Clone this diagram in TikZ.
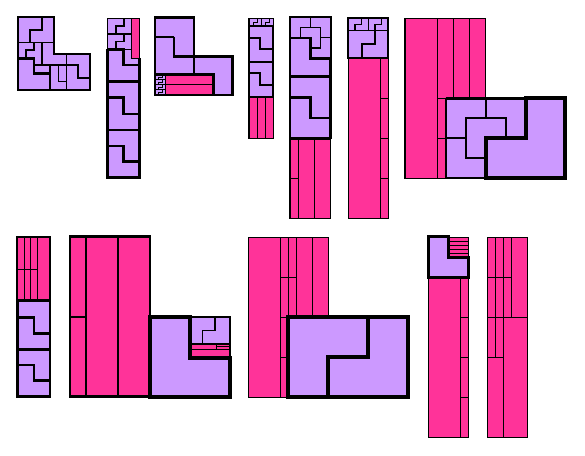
\documentclass[tikz,border=0pt]{standalone}
\usepackage{tikz}
\definecolor{pinkc}{RGB}{255,51,153}
\definecolor{purc}{RGB}{204,153,255}
\tikzset{
  lA/.style={line width=0.8pt},
  lB/.style={line width=1.2pt},
  lC/.style={line width=1.8pt},
  lD/.style={line width=2.6pt},
  lE/.style={line width=3.8pt},
  pk/.style={fill=pinkc,draw=black},
  pu/.style={fill=purc,draw=black},
}
\begin{document}
\begin{tikzpicture}[x=1pt,y=-1pt,line join=miter]
\useasboundingbox (0,0) rectangle (585,455);
\fill[white] (0,0) rectangle (585,455);

% ---------- Figure 1 ----------
\fill[purc] (18,17.3)--(54,17.3)--(54,54)--(90,54)--(90,90)--(18,90)--cycle;
\draw[lB] (42,17.3)--(42,30)--(30,30)--(30,42.3);
\draw[lB] (18,42.3)--(54,42.3);
\draw[lB] (34,42.3)--(34,50)--(26,50)--(26,58.3);
\draw[lB] (42,42.3)--(42,65);
\draw[lB] (34,65)--(66.7,65);
\draw[lB] (66.7,54)--(66.7,90);
\draw[lB] (50,65)--(50,73.3);
\draw[lB] (58.3,65)--(58.3,81.7)--(66.7,81.7);
\draw[lB] (66.7,65)--(78,65)--(78,78)--(90,78);
\draw[lD] (18,58.3)--(34,58.3)--(34,73.3)--(50,73.3)--(50,90);
\draw[lC] (18,17.3)--(54,17.3)--(54,54)--(90,54)--(90,90)--(18,90)--cycle;
\draw[lD] (18,58.3)--(18,90)--(50,90);

% ---------- Figure 2 ----------
\fill[purc] (107.3,18.3) rectangle (139.3,177.3);
\draw[pk,lB] (131.7,18.3) rectangle (139.3,58.3);
\draw[lB] (107.3,18.3) rectangle (131.7,34);
\draw[lB] (124,18.3)--(124,26)--(116,26)--(116,34);
\draw[lB] (107.3,34) rectangle (131.7,49.3);
\draw[lB] (124,34)--(124,41.7)--(116,41.7)--(116,49.3);
\draw[lB] (131.7,49.3)--(131.7,58.3);
\draw[lD] (107.3,49.3)--(123.3,49.3)--(123.3,65)--(139.3,65);
\draw[lD] (107.3,81.7)--(139.3,81.7);
\draw[lD] (107.3,97.3)--(123.3,97.3)--(123.3,114)--(139.3,114);
\draw[lD] (107.3,130)--(139.3,130);
\draw[lD] (107.3,146)--(123.3,146)--(123.3,161.7)--(139.3,161.7);
\draw[lD] (107.3,49.3)--(107.3,177.3)--(139.3,177.3)--(139.3,58.3);

% ---------- Figure 3 ----------
\fill[purc] (155,17.3)--(194,17.3)--(194,56.7)--(232.7,56.7)--(232.7,95)--(155,95)--cycle;
\draw[pk,lB] (165.3,74.3) rectangle (213.3,84.7);
\draw[pk,lB] (165.3,84.7) rectangle (213.3,95);
\foreach \i in {0,1,2,3}{
  \draw[lA] (155,74.3+5.175*\i) rectangle (165.3,79.475+5.175*\i);
  \draw[lA] (162.5,74.3+5.175*\i)--(162.5,76.9+5.175*\i)--(158.5,76.9+5.175*\i)--(158.5,79.475+5.175*\i);
}
\draw[lC] (155,36.7)--(174,36.7);
\draw[lD] (174,36.7)--(174,56.7)--(232.7,56.7);
\draw[lD] (194,17.3)--(194,74.3);
\draw[lD] (155,74.3)--(213.3,74.3)--(213.3,95);
\draw[lD] (155,17.3)--(194,17.3)--(194,56.7)--(232.7,56.7)--(232.7,95)--(155,95)--cycle;

% ---------- Figure 4 ----------
\fill[purc] (249,18.3) rectangle (273.3,97.3);
\draw[lB] (249,18.3) rectangle (261.2,26);
\draw[lB] (261.2,18.3) rectangle (273.3,26);
\draw[lA] (257,18.3)--(257,22.2)--(253,22.2)--(253,26);
\draw[lA] (269.2,18.3)--(269.2,22.2)--(265.2,22.2)--(265.2,26);
\draw[lC] (249,38.3)--(260,38.3)--(260,49.3)--(273.3,49.3);
\draw[lC] (249,61.7)--(273.3,61.7);
\draw[lC] (249,73.3)--(260,73.3)--(260,85)--(273.3,85);
\draw[pk,lB] (249,97.3) rectangle (273.3,138.3);
\draw[lB] (257.3,97.3)--(257.3,138.3);
\draw[lB] (265.7,97.3)--(265.7,138.3);
\draw[lC] (249,26) rectangle (273.3,97.3);
\draw[lD] (249,26)--(249,97.3);

% ---------- Figure 5 ----------
\fill[purc] (290,17.3) rectangle (330.7,138.3);
\draw[lB] (310.35,17.3)--(310.35,27.55);
\draw[lB] (300.2,27.55)--(320.5,27.55);
\draw[lB] (300.2,27.55)--(300.2,37.8);
\draw[lB] (320.5,27.55)--(320.5,48.05);
\draw[lB] (320.5,37.8)--(330.7,37.8);
\draw[lB] (310.35,48.05)--(320.5,48.05);
\draw[lD] (290,37.8)--(310.35,37.8)--(310.35,58.3)--(330.7,58.3);
\draw[lD] (290,76.7)--(330.7,76.7);
\draw[lD] (290,97.2)--(310.35,97.2)--(310.35,117.8)--(330.7,117.8);
\draw[pk,lB] (290,138.3) rectangle (330.7,218.3);
\draw[lB] (298.3,138.3)--(298.3,218.3);
\draw[lB] (314.3,138.3)--(314.3,218.3);
\draw[lB] (290,178.3)--(298.3,178.3);
\draw[lC] (290,17.3) rectangle (330.7,138.3);
\draw[lD] (290,138.3)--(330.7,138.3);
\draw[lD] (330.7,58.3)--(330.7,138.3);

% ---------- Figure 6 ----------
\fill[purc] (348.3,18.3) rectangle (388.3,58.3);
\draw[lB] (348.3,18.3) rectangle (368.3,30.7);
\draw[lB] (368.3,18.3) rectangle (388.3,30.7);
\draw[lB] (361.7,18.3)--(361.7,24.5)--(355,24.5)--(355,30.7);
\draw[lB] (381.7,18.3)--(381.7,24.5)--(375,24.5)--(375,30.7);
\draw[lC] (375,30.7)--(375,44.3)--(361.7,44.3)--(361.7,58.3);
\draw[lC] (348.3,18.3) rectangle (388.3,58.3);
\draw[pk,lB] (348.3,58.3) rectangle (388.3,218.3);
\draw[lB] (380.7,58.3)--(380.7,218.3);
\draw[lB] (380.7,98.3)--(388.3,98.3);
\draw[lB] (380.7,138.3)--(388.3,138.3);
\draw[lB] (380.7,178.3)--(388.3,178.3);
\draw[lC] (348.3,58.3)--(388.3,58.3);

% ---------- Figure 7 ----------
\draw[pk,lB] (405,18.3) rectangle (437.3,178.3);
\draw[pk,lB] (437.3,18.3) rectangle (453.3,98.3);
\draw[pk,lB] (453.3,18.3) rectangle (469.3,98.3);
\draw[pk,lB] (469.3,18.3) rectangle (485.7,98.3);
\draw[pk,lB] (437.3,98.3) rectangle (445.7,138.3);
\draw[pk,lB] (437.3,138.3) rectangle (445.7,178.3);
\fill[purc] (445.7,98.3) rectangle (565,178.3);
\draw[lC] (485.7,98.3)--(485.7,118.3);
\draw[lC] (465.7,118.3)--(505.7,118.3)--(505.7,138.3)--(485.7,138.3)--(485.7,158.3)--(465.7,158.3)--cycle;
\draw[lC] (445.7,138.3)--(465.7,138.3);
\draw[lC] (445.7,98.3)--(445.7,178.3)--(485.7,178.3);
\draw[lD] (445.7,98.3)--(525.7,98.3);
\draw[lE] (485.7,178.3)--(485.7,138.3)--(525.7,138.3)--(525.7,98.3)--(565,98.3)--(565,178.3)--cycle;

% ---------- Figure 8 ----------
\draw[pk,lB] (17.3,237.3) rectangle (50,300.7);
\draw[lB] (24.3,237.3)--(24.3,300.7);
\draw[lB] (30.7,237.3)--(30.7,300.7);
\draw[lB] (37.3,237.3)--(37.3,300.7);
\draw[lB] (17.3,269.3)--(37.3,269.3);
\fill[purc] (17.3,300.7) rectangle (50,396.7);
\draw[lD] (17.3,317.3)--(34,317.3)--(34,333.3)--(50,333.3);
\draw[lD] (17.3,349.3)--(50,349.3);
\draw[lD] (17.3,365)--(34,365)--(34,380.7)--(50,380.7);
\draw[lD] (17.3,300.7) rectangle (50,396.7);
\draw[lC] (17.3,237.3) rectangle (50,300.7);

% ---------- Figure 9 ----------
\draw[pk,lD] (70,236.7) rectangle (150,396.7);
\draw[lC] (86,236.7)--(86,396.7);
\draw[lC] (118.3,236.7)--(118.3,396.7);
\draw[lC] (70,317.3)--(86,317.3);
\fill[purc] (150,316.7)--(190,316.7)--(190,358.3)--(230,358.3)--(230,396.7)--(150,396.7)--cycle;
\fill[purc] (190,316.7) rectangle (230,344);
\draw[lB] (215,316.7)--(215,330.3)--(202.7,330.3)--(202.7,344);
\draw[pk,lB] (190,344) rectangle (216.7,349.3);
\draw[pk,lB] (216.7,344) rectangle (230,346.6);
\draw[pk,lB] (216.7,346.6) rectangle (230,349.3);
\draw[pk,lB] (190,349.3) rectangle (230,358.3);
\draw[lC] (190,316.7) rectangle (230,358.3);
\draw[lE] (150,316.7)--(190,316.7)--(190,358.3)--(230,358.3)--(230,396.7)--(150,396.7)--cycle;

% ---------- Figure 10 ----------
\draw[pk,lB] (248.3,237.3) rectangle (280.3,397.3);
\draw[pk,lB] (280.3,237.3) rectangle (288.3,277.3);
\draw[pk,lB] (280.3,277.3) rectangle (288.3,317.3);
\draw[pk,lB] (280.3,317.3) rectangle (288.3,357.3);
\draw[pk,lB] (280.3,357.3) rectangle (288.3,397.3);
\draw[pk,lB] (288.3,237.3) rectangle (296.3,277.3);
\draw[pk,lB] (288.3,277.3) rectangle (296.3,317.3);
\draw[pk,lB] (296.3,237.3) rectangle (312.3,317.3);
\draw[pk,lB] (312.3,237.3) rectangle (328.3,317.3);
\fill[purc] (288.3,317.3) rectangle (408.3,397.3);
\draw[lE] (368.3,317.3)--(368.3,357.3)--(328.3,357.3)--(328.3,397.3);
\draw[lE] (288.3,317.3) rectangle (408.3,397.3);

% ---------- Figure 11 ----------
\fill[purc] (428.3,236.7)--(448.3,236.7)--(448.3,257.3)--(468.3,257.3)--(468.3,277.3)--(428.3,277.3)--cycle;
\foreach \i in {0,1,2,3,4}{
  \draw[pk,lB] (448.3,237.3+4*\i) rectangle (468.3,241.3+4*\i);
}
\draw[pk,lB] (428.3,277.3) rectangle (460.7,437.3);
\draw[pk,lB] (460.7,277.3) rectangle (468.3,317.3);
\draw[pk,lB] (460.7,317.3) rectangle (468.3,357.3);
\draw[pk,lB] (460.7,357.3) rectangle (468.3,397.3);
\draw[pk,lB] (460.7,397.3) rectangle (468.3,437.3);
\draw[lD] (428.3,236.7)--(448.3,236.7)--(448.3,257.3)--(468.3,257.3)--(468.3,277.3)--(428.3,277.3)--cycle;

% ---------- Figure 12 ----------
\draw[pk,lB] (487.3,237.3) rectangle (495.3,277.3);
\draw[pk,lB] (487.3,277.3) rectangle (495.3,317.3);
\draw[pk,lB] (487.3,317.3) rectangle (495.3,357.3);
\draw[pk,lB] (495.3,237.3) rectangle (503.3,277.3);
\draw[pk,lB] (495.3,277.3) rectangle (503.3,317.3);
\draw[pk,lB] (495.3,317.3) rectangle (503.3,357.3);
\draw[pk,lB] (487.3,357.3) rectangle (503.3,437.3);
\draw[pk,lB] (503.3,237.3) rectangle (511.3,277.3);
\draw[pk,lB] (503.3,277.3) rectangle (511.3,317.3);
\draw[pk,lB] (511.3,237.3) rectangle (527.3,317.3);
\draw[pk,lB] (503.3,317.3) rectangle (527.3,437.3);
\end{tikzpicture}
\end{document}
